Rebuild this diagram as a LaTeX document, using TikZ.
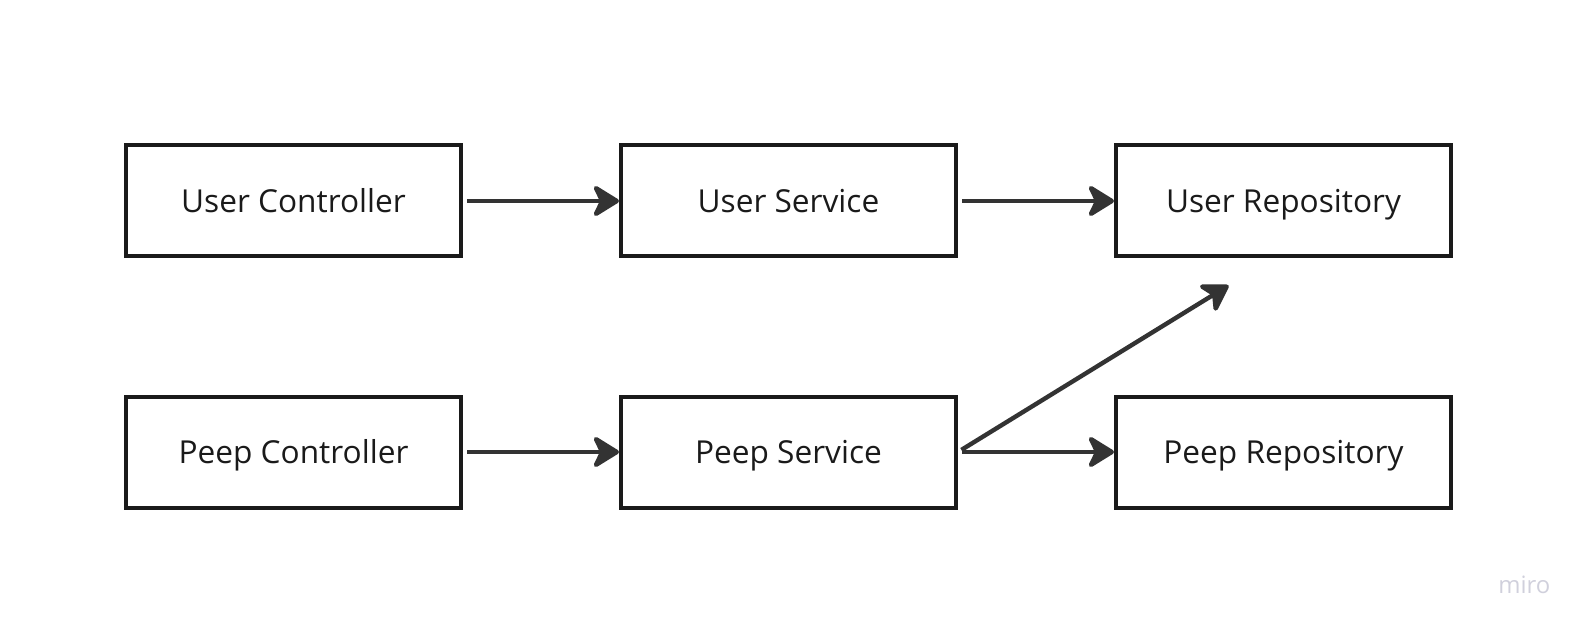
\documentclass[tikz,border=0pt]{standalone}
\usepackage{fontspec}
\setmainfont{Open Sans}
\usetikzlibrary{positioning,arrows.meta}
\definecolor{boxline}{HTML}{1A1A1A}
\definecolor{callline}{HTML}{333333}
\definecolor{miromark}{HTML}{D0D0DC}
\begin{document}
\begin{tikzpicture}[
  layer/.style={draw=boxline,line width=0.1cm,minimum width=8.375cm,minimum height=2.775cm,
    inner sep=0pt,text=boxline,font=\fontsize{22.5pt}{27pt}\selectfont,text height=0.57cm,text depth=0cm},
  call/.style={draw=callline,line width=0.11cm,shorten <=0.1cm,
    -{Stealth[length=0.75cm,width=0.92cm,inset=0.22cm,round]}},
  node distance=3.4cm and 3.9cm]
\useasboundingbox (0,0) rectangle (39.65,15.75);
\node[layer] (userCtrl) at (7.3375,10.725) {User Controller};
\node[layer,right=of userCtrl] (userSvc) {User Service};
\node[layer,right=of userSvc] (userRepo) {User Repository};
\node[layer,below=of userCtrl] (peepCtrl) {Peep Controller};
\node[layer,right=of peepCtrl] (peepSvc) {Peep Service};
\node[layer,right=of peepSvc] (peepRepo) {Peep Repository};
\coordinate (repoIn) at ([shift={(-1.375,-0.675)}]userRepo.south);
\draw[call] (userCtrl) -- (userSvc);
\draw[call] (userSvc) -- (userRepo);
\draw[call] (peepCtrl) -- (peepSvc);
\draw[call] (peepSvc) -- (peepRepo);
\draw[call] (peepSvc.east) -- (repoIn);
\node[anchor=base,text=miromark,font=\fontsize{17pt}{20pt}\selectfont] (miro) at (38.11,0.925) {miro};
\end{tikzpicture}
\end{document}
